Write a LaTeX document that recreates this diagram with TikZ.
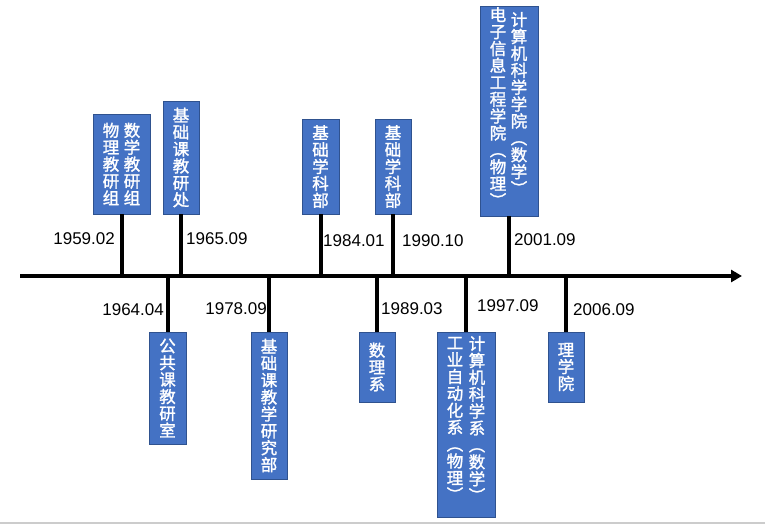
\documentclass[tikz,border=0pt]{standalone}
\usepackage{fontspec}
\usepackage{graphicx}
\setmainfont{Liberation Sans}
\newfontfamily\cjk[FakeBold=1.5]{Noto Sans CJK SC}
\usetikzlibrary{arrows.meta}
\definecolor{boxfill}{HTML}{4472C4}
\definecolor{boxline}{HTML}{2F528F}
\newcommand\vertfont{\cjk\fontsize{16.5}{16.9}\selectfont\lineskiplimit -20pt\relax}
\newcommand\vlp{\rotatebox[origin=c]{-90}{（}}
\newcommand\vrp{\rotatebox[origin=c]{-90}{）}}
\begin{document}
\begin{tikzpicture}[x=1pt,y=-1pt,
  evbox/.style={draw=boxline,fill=boxfill,line width=0.8pt,inner sep=0pt},
  vtext/.style={text=white,inner sep=0pt,align=center,font=\vertfont},
  datelbl/.style={inner sep=0pt,font=\fontsize{17}{20}\selectfont},
  tick/.style={line width=4pt,black},
  axisline/.style={line width=3.5pt,black,-{Triangle[length=11pt,width=12pt]}}]
\useasboundingbox (0,0) rectangle (765,524);
\fill[white] (0,0) rectangle (765,524);
\draw[gray!40,line width=1.5pt] (0,523) -- (765,523);

% axis
\coordinate (ax0) at (20,276);
\coordinate (ax1) at (742,276);
\draw[axisline] (ax0) -- (ax1);

% boxes above
\node[evbox,minimum width=57pt,minimum height=100pt] (b1) at (121.5,164) {};
\node[vtext] (b1l) at (111,164) {物\\理\\教\\研\\组};
\node[vtext] (b1r) at (132,164) {数\\学\\教\\研\\组};

\node[evbox,minimum width=36pt,minimum height=113pt] (b2) at (181,157.5) {};
\node[vtext] (b2t) at (b2.center) {基\\础\\课\\教\\研\\处};

\node[evbox,minimum width=37pt,minimum height=95pt] (b3) at (320.5,166.5) {};
\node[vtext] (b3t) at (b3.center) {基\\础\\学\\科\\部};

\node[evbox,minimum width=36pt,minimum height=95pt] (b4) at (393,166.5) {};
\node[vtext] (b4t) at (b4.center) {基\\础\\学\\科\\部};

\node[evbox,minimum width=58pt,minimum height=210pt] (b5) at (509,111) {};
\node[vtext] (b5l) at (498,108) {电\\子\\信\\息\\工\\程\\学\\院\\\vlp\\物\\理\\\vrp};
\node[vtext] (b5r) at (519,104.5) {计\\算\\机\\科\\学\\学\\院\\\vlp\\数\\学\\\vrp};

% boxes below
\node[evbox,minimum width=37pt,minimum height=112pt] (b6) at (167.5,388) {};
\node[vtext] (b6t) at (b6.center) {公\\共\\课\\教\\研\\室};

\node[evbox,minimum width=36pt,minimum height=147pt] (b7) at (269,405.5) {};
\node[vtext] (b7t) at (b7.center) {基\\础\\课\\教\\学\\研\\究\\部};

\node[evbox,minimum width=36pt,minimum height=70pt] (b8) at (377,367) {};
\node[vtext] (b8t) at (b8.center) {数\\理\\系};

\node[evbox,minimum width=58pt,minimum height=185pt] (b9) at (466,424.5) {};
\node[vtext] (b9l) at (455,420) {工\\业\\自\\动\\化\\系\\\vlp\\物\\理\\\vrp};
\node[vtext] (b9r) at (477,420) {计\\算\\机\\科\\学\\系\\\vlp\\数\\学\\\vrp};

\node[evbox,minimum width=36pt,minimum height=70pt] (b10) at (566,367) {};
\node[vtext] (b10t) at (b10.center) {理\\学\\院};

% ticks
\foreach \b in {b1,b2,b3,b4,b5}
  \draw[tick] (\b.south) -- (\b.south |- ax0);
\foreach \b in {b6,b7,b8,b9,b10}
  \draw[tick] (\b.north |- ax0) -- (\b.north);

% dates
\node[datelbl,anchor=east] (d1) at (115,239) {1959.02};
\node[datelbl,anchor=west] (d2) at (186,239) {1965.09};
\node[datelbl,anchor=west] (d3) at (323,241) {1984.01};
\node[datelbl,anchor=west] (d4) at (402,241) {1990.10};
\node[datelbl,anchor=west] (d5) at (514,240) {2001.09};
\node[datelbl,anchor=east] (d6) at (164,310) {1964.04};
\node[datelbl,anchor=east] (d7) at (267,309) {1978.09};
\node[datelbl,anchor=west] (d8) at (381,309) {1989.03};
\node[datelbl,anchor=west] (d9) at (477,306) {1997.09};
\node[datelbl,anchor=west] (d10) at (573,310) {2006.09};
\end{tikzpicture}
\end{document}
